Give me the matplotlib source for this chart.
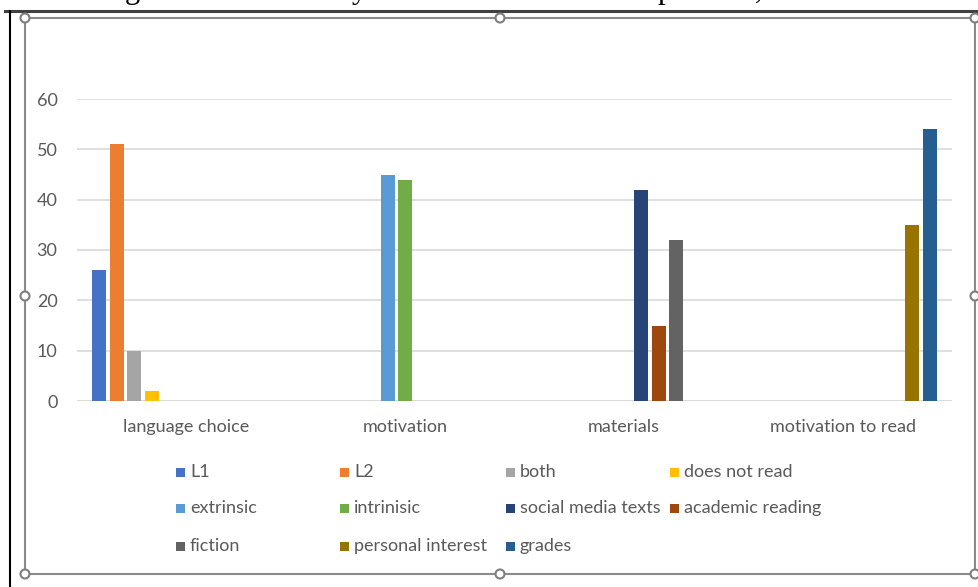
import matplotlib

matplotlib.use("Agg")
import matplotlib.pyplot as plt
import numpy as np
from matplotlib.lines import Line2D
from matplotlib.patches import Circle, Rectangle

categories = ["language choice", "motivation", "materials", "motivation to read"]
series_names = [
    "L1", "L2", "both", "does not read",
    "extrinsic", "intrinisic", "social media texts", "academic reading",
    "fiction", "personal interest", "grades",
]
# value per series, in the one category where that series has data
series_category = [0, 0, 0, 0, 1, 1, 2, 2, 2, 3, 3]
series_values = [26, 51, 10, 2, 45, 44, 42, 15, 32, 35, 54]
series_colors = [
    "#4472C4", "#ED7D31", "#A5A5A5", "#FFC000",
    "#5B9BD5", "#70AD47", "#264478", "#9E480E",
    "#636363", "#997300", "#255E91",
]
y_ticks = [0, 10, 20, 30, 40, 50, 60]

W, H = 979, 587
FONT = "Lato"
TEXT_COLOR = "#595959"

fig = plt.figure(figsize=(W / 100, H / 100), dpi=100)


def px(x, y):
    """Pixel coords (from top-left) to figure fraction."""
    return x / W, 1 - y / H


# plot area
left, right, top, bottom = 77, 952, 99, 401
ax = fig.add_axes([left / W, 1 - bottom / H, (right - left) / W, (bottom - top) / H])

n = len(series_names)
slot = 17.4 / 218.75
x_pos = np.arange(len(categories))
for idx, (name, cat, val, color) in enumerate(
    zip(series_names, series_category, series_values, series_colors)
):
    offset = (idx - (n - 1) / 2) * slot
    ax.bar(x_pos[cat] + offset, val, width=slot * 0.8, color=color, zorder=3)

ax.set_xlim(-0.5, len(categories) - 0.5)
ax.set_ylim(0, 60)
ax.set_yticks(y_ticks)
ax.set_xticks(x_pos)
ax.set_xticklabels(categories)
ax.grid(axis="y", color="#D9D9D9", linewidth=1.2, zorder=0)
ax.tick_params(axis="both", length=0, labelsize=13, labelcolor=TEXT_COLOR, pad=13)
ax.tick_params(axis="y", pad=14)
for lbl in ax.get_xticklabels() + ax.get_yticklabels():
    lbl.set_fontfamily(FONT)
for spine in ax.spines.values():
    spine.set_visible(False)
ax.axhline(0, color="#D9D9D9", linewidth=1.2, zorder=2)

# legend laid out like Excel: 4 even columns
col_x = [176, 340, 506, 670]
row_y = [472, 508, 546]
for idx, (name, color) in enumerate(zip(series_names, series_colors)):
    r, c = divmod(idx, 4)
    x0, y0 = col_x[c], row_y[r]
    fx, fy = px(x0, y0 + 4.5)
    fig.patches.append(Rectangle((fx, fy), 9 / W, 9 / H, transform=fig.transFigure,
                                 facecolor=color, edgecolor="none"))
    tx, ty = px(x0 + 14, y0)
    fig.text(tx, ty, name, fontsize=13, color=TEXT_COLOR, family=FONT,
             ha="left", va="center")

# document frame and selection handles
fig.lines.append(Line2D([5 / W, 1], [1 - 11 / H] * 2, transform=fig.transFigure,
                        color="#404040", linewidth=2.2))
fig.lines.append(Line2D([10 / W] * 2, [0, 1 - 11 / H], transform=fig.transFigure,
                        color="#000000", linewidth=1.5))
fx0, fy0 = px(25, 18)
fx1, fy1 = px(975, 574)
fig.lines.append(Line2D([fx0, fx1, fx1, fx0, fx0], [fy0, fy0, fy1, fy1, fy0],
                        transform=fig.transFigure, color="#8A8A8A", linewidth=1.5))
for hx, hy in [(25, 18), (500, 18), (975, 18), (25, 296), (975, 296), (25, 574), (500, 574), (975, 574)]:
    cx, cy = hx, H - hy
    fig.patches.append(Circle((cx, cy), 4.5, transform=None, facecolor="white",
                              edgecolor="#7F7F7F", linewidth=1.5, zorder=5))

# cut-off caption text above the chart (only descenders show)
for ch, xc in [("g", 132), ("y", 359), ("p", 665), (",", 759)]:
    fx, fy = px(xc, -2)
    fig.text(fx, fy, ch, fontsize=22, family="Liberation Serif", ha="center",
             va="baseline", color="#000000")

fig.savefig("out.png", dpi=100)
plt.close(fig)
